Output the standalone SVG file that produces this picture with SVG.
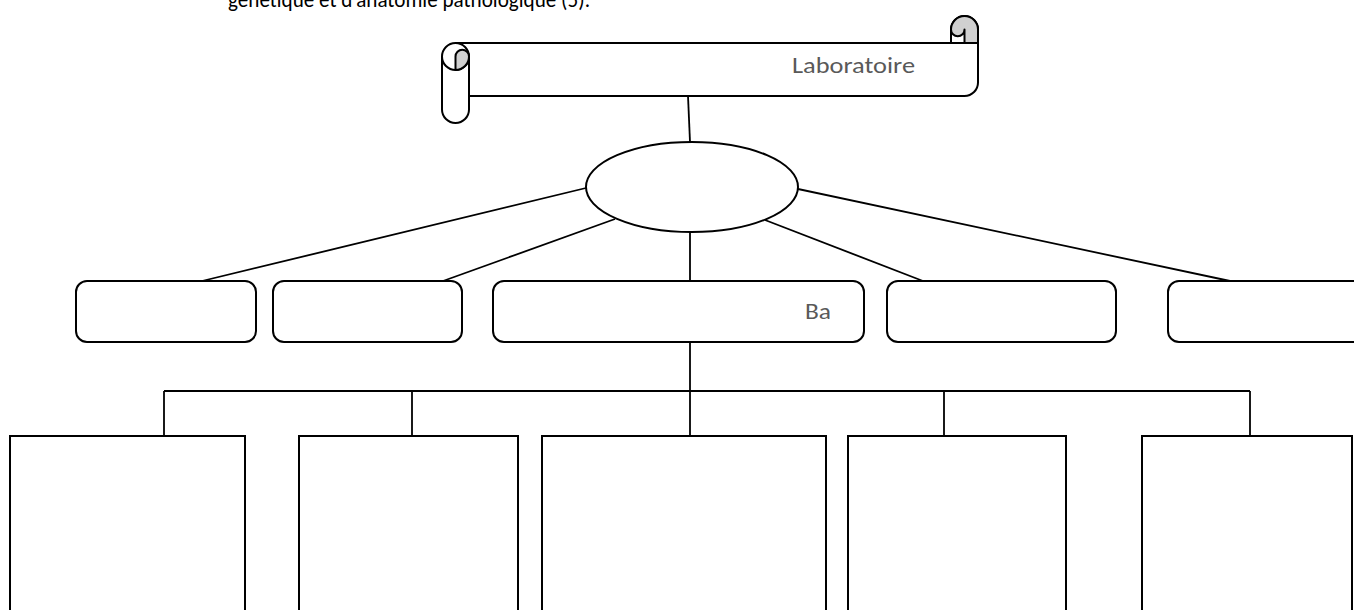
<svg xmlns="http://www.w3.org/2000/svg" width="1354" height="610" viewBox="0 0 1354 610">
<style>
.shape{fill:#fff;stroke:#000;stroke-width:2}
.curl{fill:#d0d0d0;stroke:#000;stroke-width:2;stroke-linejoin:round}
.ol{fill:none;stroke:#000;stroke-width:2;stroke-linejoin:round}
.conn{fill:none;stroke:#000;stroke-width:1.8}
.lbl{font-family:Carlito,Lato,"Liberation Sans",sans-serif;font-size:23px;fill:#595959}
.body{font-family:Carlito,Lato,"Liberation Sans",sans-serif;font-size:22px;fill:#000}
</style>
<rect width="1354" height="610" fill="#fff"/>
<text class="body" x="228" y="7" textLength="362" lengthAdjust="spacingAndGlyphs">génétique et d’anatomie pathologique (5).</text>
<g id="connectors">
<line class="conn" x1="688" y1="96" x2="690" y2="142"/>
<line class="conn" x1="586" y1="188" x2="202" y2="281"/>
<line class="conn" x1="615" y1="219" x2="443" y2="281"/>
<line class="conn" x1="690" y1="232" x2="690" y2="281"/>
<line class="conn" x1="765" y1="220" x2="923" y2="281"/>
<line class="conn" x1="798" y1="189" x2="1230" y2="281"/>
<line class="conn" x1="690" y1="342" x2="690" y2="391"/>
<line class="conn" x1="164" y1="391" x2="1250" y2="391"/>
<line class="conn" x1="164" y1="391" x2="164" y2="436"/>
<line class="conn" x1="412" y1="391" x2="412" y2="436"/>
<line class="conn" x1="690" y1="391" x2="690" y2="436"/>
<line class="conn" x1="944" y1="391" x2="944" y2="436"/>
<line class="conn" x1="1250" y1="391" x2="1250" y2="436"/>
</g>
<g id="scroll">
<path d="M455.5 43 L964.5 43 L978 43 L978 82.5 A13.5 13.5 0 0 1 964.5 96 L469 96 L469 109.5 L442 109.5 L442 56.5 Z" fill="#fff" stroke="none"/>
<path class="ol" d="M455.5 43 L964.5 43"/>
<path class="ol" d="M951 43 L951 29.5 A13.5 13.5 0 0 1 978 29.5 L978 82.5 A13.5 13.5 0 0 1 964.5 96 L469 96"/>
<path class="curl" d="M964.5 43 L964.5 29.5 A6.75 6.75 0 0 1 951 29.5 A13.5 13.5 0 0 1 978 29.5 L978 43 Z"/>
<path class="ol" d="M951 29.5 L951 43"/>
<path class="ol" d="M442 56.5 A13.5 13.5 0 0 1 469 56.5 L469 109.5 A13.5 13.5 0 0 1 442 109.5 Z"/>
<path class="ol" d="M442 56.5 A13.5 13.5 0 0 0 469 56.5"/>
<path class="curl" d="M455.5 70 L455.5 56.5 A6.75 6.75 0 0 1 469 56.5 A13.5 13.5 0 0 1 455.5 70 Z"/>
<text class="lbl" x="792" y="73" textLength="123" lengthAdjust="spacingAndGlyphs">Laboratoire</text>
</g>
<g id="ellipse"><ellipse class="shape" cx="692" cy="187" rx="106" ry="45"/></g>
<g id="box-m1"><rect class="shape" x="76" y="281" width="180" height="61" rx="11"/></g>
<g id="box-m2"><rect class="shape" x="273" y="281" width="189" height="61" rx="11"/></g>
<g id="box-m3"><rect class="shape" x="493" y="281" width="371" height="61" rx="11"/>
<text class="lbl" x="805" y="319" textLength="26" lengthAdjust="spacingAndGlyphs">Ba</text></g>
<g id="box-m4"><rect class="shape" x="887" y="281" width="229" height="61" rx="11"/></g>
<g id="box-m5"><rect class="shape" x="1168" y="281" width="220" height="61" rx="11"/></g>
<g id="box-b1"><rect class="shape" x="10" y="436" width="235" height="190"/></g>
<g id="box-b2"><rect class="shape" x="299" y="436" width="219" height="190"/></g>
<g id="box-b3"><rect class="shape" x="542" y="436" width="284" height="190"/></g>
<g id="box-b4"><rect class="shape" x="848" y="436" width="218" height="190"/></g>
<g id="box-b5"><rect class="shape" x="1142" y="436" width="210" height="190"/></g>
</svg>
